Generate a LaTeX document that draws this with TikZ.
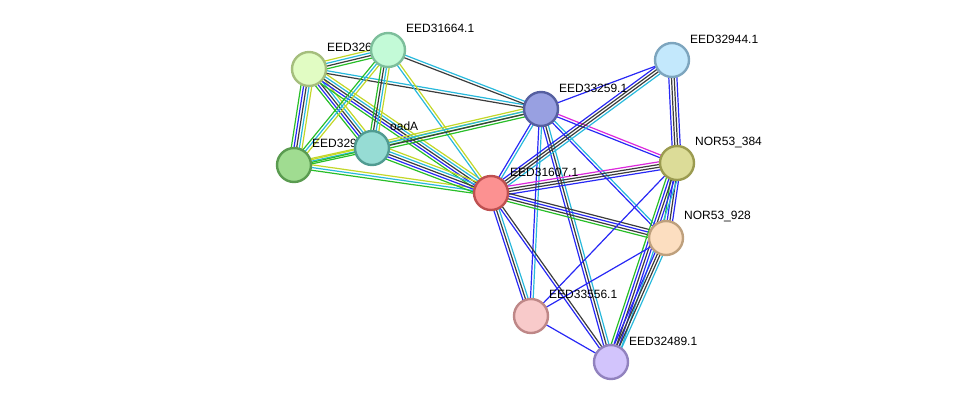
\documentclass[tikz,border=0pt]{standalone}
\usepackage{fontspec}
\setmainfont{Liberation Sans}
\usetikzlibrary{calc}
\definecolor{eblue}{RGB}{40,40,245}
\definecolor{ecyan}{RGB}{40,185,220}
\definecolor{eblack}{RGB}{60,60,60}
\definecolor{egreen}{RGB}{40,190,40}
\definecolor{eyellow}{RGB}{195,215,40}
\definecolor{emag}{RGB}{220,40,220}
\tikzset{
    prot/.style={circle, minimum size=34pt, inner sep=0pt, line width=2.4pt},
    lbl/.style={anchor=west, font=\fontsize{12}{12}\selectfont, inner sep=0pt},
    edge/.style={line width=1.2pt}
}
% several parallel lines between two nodes, one per colour
\newcommand{\link}[3]{%
  \foreach \c [count=\n] in {#3} {\xdef\nlines{\n}}
  \foreach \c [count=\i] in {#3} {
    \pgfmathsetmacro{\off}{(\i-(\nlines+1)/2)*2.7}
    \draw[edge, \c] ($(#1)!\off pt!90:(#2)$) -- ($(#2)!\off pt!-90:(#1)$);
  }
}

\begin{document}
\begin{tikzpicture}[x=1pt, y=-1pt]
  \useasboundingbox (0,0) rectangle (975,408);
  \coordinate (e326)   at (309,69);
  \coordinate (e31664) at (388,50);
  \coordinate (e329)   at (294,165);
  \coordinate (oadA)   at (372,148);
  \coordinate (e33259) at (541,109);
  \coordinate (e32944) at (672,60);
  \coordinate (n384)   at (677,163);
  \coordinate (e31607) at (491,193);
  \coordinate (n928)   at (666,238);
  \coordinate (e33556) at (531,316);
  \coordinate (e32489) at (611,362);

  % edges
  \link{e326}{e31664}{egreen,eblack,ecyan,eyellow}
  \link{e326}{e329}{egreen,eblue,eblack,ecyan,eyellow}
  \link{e326}{oadA}{egreen,eblue,eblack,ecyan,eyellow}
  \link{e326}{e31607}{egreen,eblue,eblack,ecyan,eyellow}
  \link{e326}{e33259}{eblack,ecyan}
  \link{e31664}{e33259}{eblack,ecyan}
  \link{e31664}{e329}{egreen,ecyan,eyellow}
  \link{e31664}{oadA}{egreen,eblack,ecyan,eyellow}
  \link{e31664}{e31607}{ecyan,eyellow}
  \link{e329}{oadA}{egreen,ecyan,eyellow}
  \link{e329}{e31607}{egreen,ecyan,eyellow}
  \link{e329}{e33259}{egreen,eyellow}
  \link{oadA}{e33259}{egreen,eblack,ecyan,eyellow}
  \link{oadA}{e31607}{egreen,eblue,eblack,ecyan,eyellow}
  \link{e33259}{e32944}{eblue}
  \link{e33259}{n384}{eblue,emag}
  \link{e33259}{e31607}{eblue,ecyan}
  \link{e33259}{e33556}{eblue,ecyan}
  \link{e33259}{e32489}{eblue,eblack,ecyan}
  \link{e33259}{n928}{eblue,ecyan}
  \link{e31607}{e32944}{ecyan,eblack,eblack,eblue}
  \link{e31607}{n384}{eblue,eblack,eblack,emag}
  \link{e31607}{n928}{egreen,eblack,eblue,eblack}
  \link{e31607}{e33556}{eblue,eblack,ecyan}
  \link{e31607}{e32489}{eblue,eblack}
  \link{e32944}{n384}{eblue,eblack,eblack,eblue}
  \link{n384}{n928}{egreen,eblue,eblack,eblue}
  \link{n384}{e32489}{egreen,eblue,eblack,eblue,ecyan}
  \link{n384}{e33556}{eblue}
  \link{n928}{e32489}{eblue,eblack,eblack,ecyan}
  \link{n928}{e33556}{eblue}
  \link{e33556}{e32489}{eblue}

  % labels
  \node[lbl] (t31664) at ($(e31664)+(18,-22)$) {EED31664.1};
  \node[lbl] (t326)   at ($(e326)+(18,-22)$)   {EED326};
  \node[lbl] (t329)   at ($(e329)+(18,-22)$)   {EED329};
  \node[lbl] (toadA)  at ($(oadA)+(18,-22)$)   {oadA};
  \node[lbl] (t33259) at ($(e33259)+(18,-21)$) {EED33259.1};
  \node[lbl] (t32944) at ($(e32944)+(18,-21)$) {EED32944.1};
  \node[lbl] (t384)   at ($(n384)+(18,-21)$)   {NOR53\_384};
  \node[lbl] (t31607) at ($(e31607)+(19,-21)$) {EED31607.1};
  \node[lbl] (t928)   at ($(n928)+(18,-22)$)   {NOR53\_928};
  \node[lbl] (t33556) at ($(e33556)+(18,-22)$) {EED33556.1};
  \node[lbl] (t32489) at ($(e32489)+(18,-21)$) {EED32489.1};

  % proteins
  \node[prot, draw={rgb,255:red,165;green,190;blue,125}, fill={rgb,255:red,225;green,252;blue,195}] (p326) at (e326) {};
  \node[prot, draw={rgb,255:red,125;green,190;blue,155}, fill={rgb,255:red,195;green,250;blue,215}] (p31664) at (e31664) {};
  \node[prot, draw={rgb,255:red,90;green,155;blue,80}, fill={rgb,255:red,160;green,220;blue,145}] (p329) at (e329) {};
  \node[prot, draw={rgb,255:red,80;green,155;blue,145}, fill={rgb,255:red,150;green,220;blue,212}] (poadA) at (oadA) {};
  \node[prot, draw={rgb,255:red,85;green,95;blue,160}, fill={rgb,255:red,152;green,160;blue,225}] (p33259) at (e33259) {};
  \node[prot, draw={rgb,255:red,125;green,165;blue,190}, fill={rgb,255:red,195;green,232;blue,252}] (p32944) at (e32944) {};
  \node[prot, draw={rgb,255:red,155;green,155;blue,80}, fill={rgb,255:red,220;green,220;blue,152}] (p384) at (n384) {};
  \node[prot, draw={rgb,255:red,190;green,80;blue,80}, fill={rgb,255:red,252;green,145;blue,145}] (p31607) at (e31607) {};
  \node[prot, draw={rgb,255:red,190;green,160;blue,125}, fill={rgb,255:red,252;green,222;blue,192}] (p928) at (n928) {};
  \node[prot, draw={rgb,255:red,190;green,135;blue,135}, fill={rgb,255:red,248;green,202;blue,202}] (p33556) at (e33556) {};
  \node[prot, draw={rgb,255:red,145;green,130;blue,190}, fill={rgb,255:red,210;green,196;blue,252}] (p32489) at (e32489) {};
\end{tikzpicture}
\end{document}
